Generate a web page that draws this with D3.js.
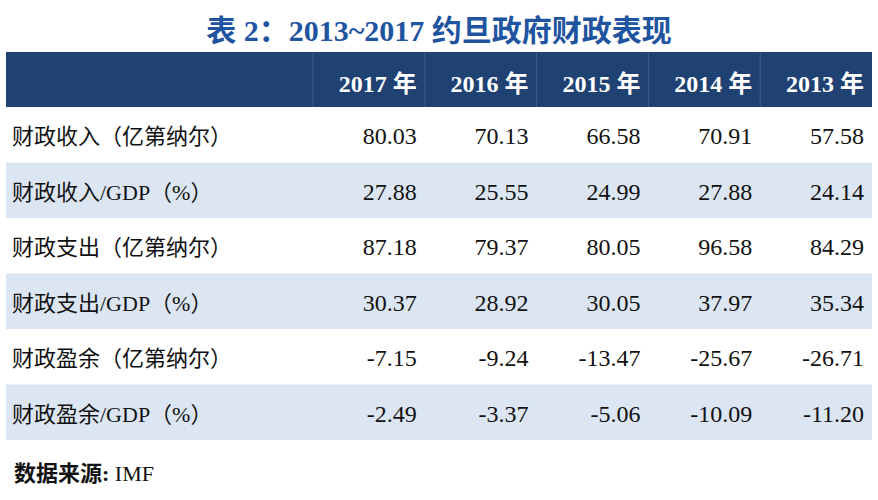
<!DOCTYPE html>
<html><head><meta charset="utf-8">
<script src="https://cdn.jsdelivr.net/npm/d3@7"></script>
<style>body{margin:0;background:#fff}</style>
</head><body><svg id="c" width="878" height="500"></svg>
<script>
var years = ['2017 年', '2016 年', '2015 年', '2014 年', '2013 年'];
var rowLabels = ['财政收入（亿第纳尔）', '财政收入/GDP（%）', '财政支出（亿第纳尔）', '财政支出/GDP（%）', '财政盈余（亿第纳尔）', '财政盈余/GDP（%）'];
var values = [
    ['80.03', '70.13', '66.58', '70.91', '57.58'],
    ['27.88', '25.55', '24.99', '27.88', '24.14'],
    ['87.18', '79.37', '80.05', '96.58', '84.29'],
    ['30.37', '28.92', '30.05', '37.97', '35.34'],
    ['-7.15', '-9.24', '-13.47', '-25.67', '-26.71'],
    ['-2.49', '-3.37', '-5.06', '-10.09', '-11.20']
];

var svg = d3.select('#c'),
    font = '"Liberation Serif", "Noto Sans CJK SC", serif',
    left = 6, right = 872, labelW = 307,
    headTop = 52, headH = 55, rowH = 55.5;

var x = d3.scaleBand().domain(years).range([left + labelW, right]);
var y = d3.scaleBand().domain(d3.range(rowLabels.length))
    .range([headTop + headH, headTop + headH + rowH * rowLabels.length]);

svg.append('text').attr('x', 439).attr('y', 41).attr('text-anchor', 'middle')
    .attr('font-family', font).attr('font-weight', 'bold').attr('font-size', 30)
    .attr('fill', '#1f55a0').text('表 2：2013~2017 约旦政府财政表现');

// header
svg.append('rect').attr('x', left).attr('y', headTop).attr('width', right - left)
    .attr('height', headH).attr('fill', '#1f4272');
years.forEach(function (yr) {
    svg.append('line').attr('x1', x(yr)).attr('x2', x(yr))
        .attr('y1', headTop).attr('y2', headTop + headH).attr('stroke', '#3b5d8e');
    svg.append('text').attr('x', x(yr) + x.bandwidth() - 8).attr('y', headTop + 40)
        .attr('text-anchor', 'end').attr('font-family', font).attr('font-weight', 'bold')
        .attr('font-size', 24).attr('fill', '#fff').text(yr);
});

// rows
rowLabels.forEach(function (lab, i) {
    svg.append('rect').attr('x', left).attr('y', y(i)).attr('width', right - left)
        .attr('height', y.bandwidth()).attr('fill', i % 2 ? '#dce6f2' : '#fff');
    svg.append('text').attr('x', left + 6).attr('y', y(i) + 37)
        .attr('font-family', font).attr('font-size', 22).attr('fill', '#111').text(lab);
    values[i].forEach(function (v, j) {
        svg.append('text').attr('x', x(years[j]) + x.bandwidth() - 8).attr('y', y(i) + 37)
            .attr('text-anchor', 'end').attr('font-family', font).attr('font-size', 24)
            .attr('fill', '#111').text(v);
    });
});

var src = svg.append('text').attr('x', 14).attr('y', 481).attr('font-family', font)
    .attr('font-size', 22).attr('fill', '#111');
src.append('tspan').attr('font-weight', 'bold').text('数据来源: ');
src.append('tspan').text('IMF');
</script>
</body></html>
